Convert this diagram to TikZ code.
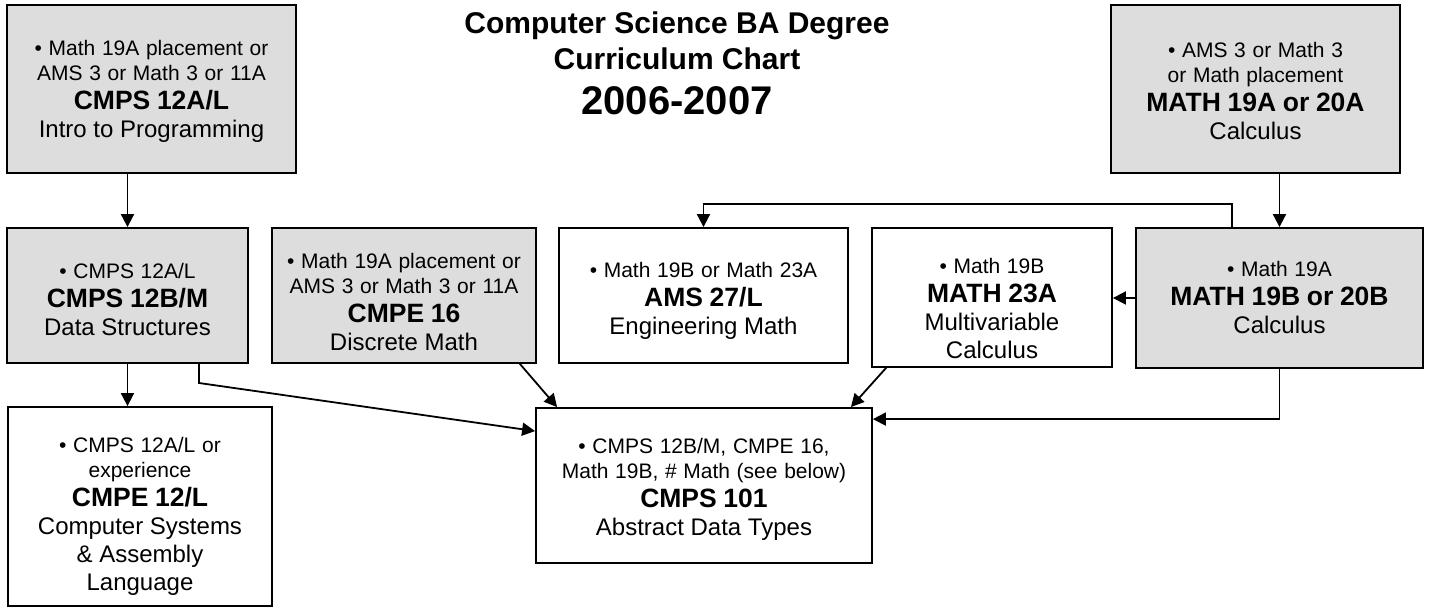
\documentclass[tikz,border=0pt]{standalone}
\usepackage{fontspec}
\setmainfont{Liberation Sans}
\usetikzlibrary{arrows.meta,positioning}
\definecolor{boxgray}{RGB}{221,221,221}
\newcommand{\prq}[1]{{\fontsize{10.5}{12.5}\selectfont\textbullet\ #1\par}}
\newcommand{\crs}[1]{{\fontsize{13.25}{14.5}\selectfont\bfseries #1\par}}
\newcommand{\dsc}[1]{{\fontsize{12}{14}\selectfont #1\par}}

\begin{document}
\begin{tikzpicture}[x=0.5pt,y=-0.5pt,
    course/.style={draw=black, line width=0.9pt, align=center, inner sep=0pt},
    taken/.style={course, fill=boxgray},
    arr/.style={-{Triangle[length=6.5pt,width=6.5pt]}, line width=0.9pt},
    heading/.style={font=\bfseries\fontsize{15}{18}\selectfont, anchor=base}]
\useasboundingbox (0,0) rectangle (1431,608);

% title
\node[heading] (title1) at (677,34) {Computer Science BA Degree};
\node[heading] (title2) at (677,70) {Curriculum Chart};
\node[heading, font=\bfseries\fontsize{20}{24}\selectfont] (year) at (677,115) {2006-2007};

% top row
\node[taken, minimum width=144.5pt, minimum height=84pt, text width=138pt, text height=9.7pt] (cmps12a) at (151.5,89)
  {\prq{Math 19A placement or\\AMS 3 or Math 3 or 11A}\crs{CMPS 12A/L}\dsc{Intro to Programming}};
\node[taken, minimum width=144.5pt, minimum height=84pt, text width=138pt, text height=9.7pt] (math19a) at (1255.5,89)
  {\prq{AMS 3 or Math 3\\or Math placement}\crs{MATH 19A or 20A}\dsc{Calculus}};

% middle row
\node[taken, minimum width=120.5pt, minimum height=67.5pt, text width=114pt, text height=11.7pt] (cmps12b) at (127.5,295.5)
  {\prq{CMPS 12A/L}\crs{CMPS 12B/M}\dsc{Data Structures}};
\node[taken, minimum width=132pt, minimum height=67.5pt, text width=126pt, text height=13.7pt] (cmpe16) at (404,295.5)
  {\prq{Math 19A placement or\\AMS 3 or Math 3 or 11A}\crs{CMPE 16}\dsc{Discrete Math}};
\node[course, minimum width=144.5pt, minimum height=67.5pt, text width=138pt, text height=12.7pt] (ams27) at (703.5,295.5)
  {\prq{Math 19B or Math 23A}\crs{AMS 27/L}\dsc{Engineering Math}};
\node[course, minimum width=120pt, minimum height=69.5pt, text width=114pt, text height=18.7pt] (math23a) at (992,297.5)
  {\prq{Math 19B}\crs{MATH 23A}\dsc{Multivariable\\Calculus}};
\node[taken, minimum width=143.5pt, minimum height=70pt, text width=137pt] (math19b) at (1279.5,298)
  {\prq{Math 19A}\crs{MATH 19B or 20B}\dsc{Calculus}};

% bottom row
\node[course, minimum width=132pt, minimum height=99.5pt, text width=126pt, text height=17.7pt] (cmpe12) at (140,506.5)
  {\prq{CMPS 12A/L or\\experience}\crs{CMPE 12/L}\dsc{Computer Systems\\\& Assembly\\Language}};
\node[course, minimum width=168pt, minimum height=77.5pt, text width=162pt, text height=11.7pt] (cmps101) at (704,485.5)
  {\prq{CMPS 12B/M, CMPE 16,\\Math 19B, \# Math (see below)}\crs{CMPS 101}\dsc{Abstract Data Types}};

% prerequisites
\coordinate (cbend) at (199,383);
\coordinate (gbend) at (1232,204);
\draw[arr] (cmps12a.south -| cmps12b.north) -- (cmps12b.north);
\draw[arr] (math19a.south -| math19b.north) -- (math19b.north);
\draw[arr] (cmps12b.south) -- (cmps12b.south |- cmpe12.north);
\draw[arr] (cmps12b.south -| cbend) -- (cbend) -- ([yshift=-12pt]cmps101.north west);
\draw[arr] ([xshift=-8.5pt]cmpe16.south east) -- ([xshift=11pt]cmps101.north west);
\draw[arr] ([xshift=7.5pt]math23a.south west) -- ([xshift=-11pt]cmps101.north east);
\draw[arr] (math19b.south) |- ([yshift=-6pt]cmps101.north east);
\draw[arr] (math19b.west) -- (math19b.west -| math23a.east);
\draw[arr] (math19b.north -| gbend) |- (gbend -| ams27.north) -- (ams27.north);
\end{tikzpicture}
\end{document}
